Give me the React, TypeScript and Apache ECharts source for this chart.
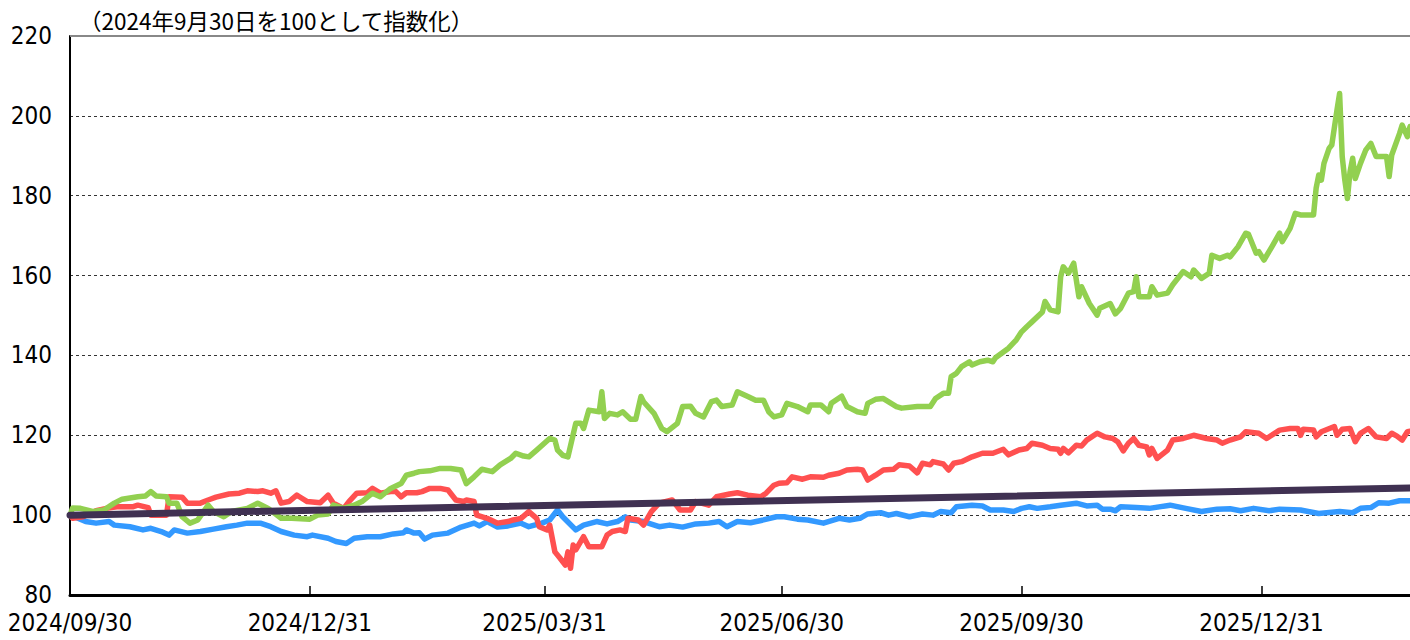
import React, { useEffect, useRef } from "react";
import * as echarts from "echarts";

const titleText = "（2024年9月30日を100として指数化）";
const tickDates = ["2024-09-30", "2024-12-31", "2025-03-31", "2025-06-30", "2025-09-30", "2025-12-31"];
const xMin = "2024-09-30";
const xMax = "2026-02-26";
const yMin = 80;
const yMax = 220;
const yStep = 20;

const greenDates = [
  "2024-09-30","2024-10-01","2024-10-04","2024-10-09","2024-10-13","2024-10-17","2024-10-20","2024-10-26","2024-10-29","2024-10-31",
  "2024-11-02","2024-11-06","2024-11-07","2024-11-10","2024-11-12","2024-11-15","2024-11-18","2024-11-22","2024-11-24","2024-11-28",
  "2024-12-01","2024-12-07","2024-12-11","2024-12-15","2024-12-20","2024-12-24","2024-12-31","2025-01-03","2025-01-07","2025-01-09",
  "2025-01-13","2025-01-17","2025-01-20","2025-01-24","2025-01-27","2025-01-31","2025-02-04","2025-02-06","2025-02-09","2025-02-11",
  "2025-02-15","2025-02-19","2025-02-23","2025-02-27","2025-03-01","2025-03-04","2025-03-07","2025-03-11","2025-03-14","2025-03-18",
  "2025-03-20","2025-03-23","2025-03-25","2025-03-28","2025-04-02","2025-04-04","2025-04-05","2025-04-07","2025-04-09","2025-04-12",
  "2025-04-14","2025-04-15","2025-04-17","2025-04-21","2025-04-22","2025-04-23","2025-04-25","2025-04-28","2025-04-30","2025-05-03",
  "2025-05-05","2025-05-07","2025-05-08","2025-05-12","2025-05-15","2025-05-17","2025-05-21","2025-05-23","2025-05-26","2025-05-28",
  "2025-05-31","2025-06-03","2025-06-05","2025-06-07","2025-06-11","2025-06-13","2025-06-17","2025-06-20","2025-06-23","2025-06-25",
  "2025-06-27","2025-06-30","2025-07-02","2025-07-06","2025-07-10","2025-07-11","2025-07-15","2025-07-18","2025-07-19","2025-07-23",
  "2025-07-25","2025-07-29","2025-08-01","2025-08-02","2025-08-05","2025-08-08","2025-08-13","2025-08-15","2025-08-21","2025-08-26",
  "2025-08-28","2025-08-31","2025-09-02","2025-09-03","2025-09-05","2025-09-07","2025-09-10","2025-09-11","2025-09-14","2025-09-17",
  "2025-09-19","2025-09-20","2025-09-25","2025-09-28","2025-09-30","2025-10-02","2025-10-04","2025-10-08","2025-10-09","2025-10-11",
  "2025-10-14","2025-10-15","2025-10-16","2025-10-18","2025-10-20","2025-10-22","2025-10-23","2025-10-26","2025-10-29","2025-10-30",
  "2025-11-03","2025-11-05","2025-11-07","2025-11-10","2025-11-12","2025-11-13","2025-11-14","2025-11-18","2025-11-19","2025-11-21",
  "2025-11-25","2025-11-27","2025-12-01","2025-12-04","2025-12-05","2025-12-08","2025-12-11","2025-12-12","2025-12-15","2025-12-18",
  "2025-12-19","2025-12-22","2025-12-25","2025-12-26","2025-12-29","2025-12-30","2026-01-01","2026-01-04","2026-01-07","2026-01-08",
  "2026-01-11","2026-01-13","2026-01-15","2026-01-20","2026-01-21","2026-01-22","2026-01-23","2026-01-24","2026-01-26","2026-01-27",
  "2026-01-29","2026-01-30","2026-01-31","2026-02-01","2026-02-02","2026-02-03","2026-02-04","2026-02-05","2026-02-07","2026-02-09",
  "2026-02-11","2026-02-13","2026-02-17","2026-02-18","2026-02-19","2026-02-22","2026-02-23","2026-02-25","2026-02-26"
];
const greenValues = [
  100,101.8,101.7,100.9,101.3,103,104,104.6,104.8,105.9,
  104.8,104.6,103,103,99.6,98,98.8,102.5,100.9,99.6,
  100.9,101.7,103,101.7,99.2,99.2,99,100,100.3,102.5,
  101.7,102.5,103.4,105.5,104.6,106.7,107.9,110,110.5,110.9,
  111.1,111.7,111.7,111.3,107.9,109.6,111.5,110.9,112.6,114.2,
  115.5,114.8,114.6,116.3,119.2,118.8,116.3,115,114.6,123,
  123,121.7,126.3,125.9,130.9,124.2,125.5,125.1,125.9,124,
  124,129.7,128.4,125.5,121.7,120.9,123,127.2,127.3,125.5,
  124.6,128.4,128.8,127.2,127.6,130.9,129.7,128.8,128.8,125.9,
  124.6,125.1,128,127.2,125.9,127.6,127.6,125.9,128,129.8,
  127.2,125.9,125.5,128,129,129.2,127.2,126.8,127.2,127.2,
  129.2,130.5,130.5,134.7,135.5,137.2,138.4,137.6,138.4,138.8,
  138.4,139.4,141.8,143.9,145.9,147.2,148.4,150.9,153.5,151.4,
  150.9,159.7,162.2,160.6,163.1,154.7,157.2,153,150.1,151.8,
  153,150.4,151.8,155.6,156,159.7,154.7,154.7,157.2,155.1,
  155.6,157.7,161,159.7,161.4,159.3,160.6,165.1,164.3,165.1,
  164.7,167.2,170.6,170.4,165.6,166,163.9,167.2,170.6,168.5,
  171.8,175.6,175.2,175.2,181.9,185.2,183.9,188.1,191.9,192.7,
  201.5,205.6,189.8,183.9,179.3,186,189.4,184.3,188.1,191.4,
  193.1,189.8,189.8,184.8,190.2,195.6,197.7,194.8,197.3
];

const redDates = [
  "2024-09-30","2024-10-01","2024-10-05","2024-10-10","2024-10-14","2024-10-18","2024-10-24","2024-10-26","2024-10-30","2024-10-31",
  "2024-11-04","2024-11-06","2024-11-07","2024-11-12","2024-11-14","2024-11-19","2024-11-22","2024-11-25","2024-11-30","2024-12-04",
  "2024-12-07","2024-12-11","2024-12-13","2024-12-16","2024-12-18","2024-12-20","2024-12-23","2024-12-26","2024-12-27","2024-12-30",
  "2025-01-04","2025-01-07","2025-01-09","2025-01-13","2025-01-15","2025-01-18","2025-01-22","2025-01-24","2025-01-27","2025-01-31",
  "2025-02-02","2025-02-04","2025-02-06","2025-02-10","2025-02-12","2025-02-15","2025-02-19","2025-02-22","2025-02-25","2025-02-28",
  "2025-03-01","2025-03-04","2025-03-05","2025-03-09","2025-03-13","2025-03-17","2025-03-19","2025-03-22","2025-03-25","2025-03-28",
  "2025-03-29","2025-04-01","2025-04-02","2025-04-04","2025-04-06","2025-04-08","2025-04-09","2025-04-10","2025-04-11","2025-04-12",
  "2025-04-15","2025-04-17","2025-04-22","2025-04-24","2025-04-26","2025-04-29","2025-05-01","2025-05-02","2025-05-06","2025-05-08",
  "2025-05-11","2025-05-14","2025-05-19","2025-05-22","2025-05-26","2025-05-28","2025-06-02","2025-06-05","2025-06-10","2025-06-13",
  "2025-06-17","2025-06-22","2025-06-24","2025-06-27","2025-06-29","2025-07-02","2025-07-04","2025-07-08","2025-07-11","2025-07-16",
  "2025-07-18","2025-07-22","2025-07-25","2025-07-29","2025-07-31","2025-08-02","2025-08-05","2025-08-08","2025-08-12","2025-08-14",
  "2025-08-18","2025-08-21","2025-08-23","2025-08-26","2025-08-27","2025-08-31","2025-09-02","2025-09-04","2025-09-07","2025-09-11",
  "2025-09-15","2025-09-19","2025-09-23","2025-09-25","2025-09-29","2025-10-02","2025-10-04","2025-10-08","2025-10-11","2025-10-14",
  "2025-10-15","2025-10-16","2025-10-18","2025-10-21","2025-10-23","2025-10-25","2025-10-29","2025-11-01","2025-11-04","2025-11-06",
  "2025-11-08","2025-11-10","2025-11-12","2025-11-14","2025-11-17","2025-11-18","2025-11-19","2025-11-21","2025-11-25","2025-11-27",
  "2025-12-01","2025-12-05","2025-12-10","2025-12-14","2025-12-16","2025-12-19","2025-12-23","2025-12-25","2025-12-30","2026-01-02",
  "2026-01-07","2026-01-11","2026-01-14","2026-01-15","2026-01-16","2026-01-20","2026-01-21","2026-01-23","2026-01-28","2026-01-29",
  "2026-01-31","2026-02-03","2026-02-05","2026-02-07","2026-02-10","2026-02-13","2026-02-17","2026-02-19","2026-02-21","2026-02-23",
  "2026-02-25","2026-02-26"
];
const redValues = [
  100,99.2,99.6,101.1,101.7,102.1,102.1,102.5,101.9,100,
  100,100,104.6,104.5,103,103,103.8,104.5,105.3,105.5,
  106.1,105.9,106.1,105.5,106.1,103,103.4,105,104.6,103.4,
  103.1,105,103,101.7,103.4,105.5,105.6,106.7,105.5,105.9,
  105.9,104.6,105.6,105.6,105.9,106.7,106.7,106.3,103.8,103.4,
  103.8,103.4,100,99.2,98,98.4,98.8,99.2,100.9,99.2,
  97.1,96.3,97.5,90.8,89.2,87.5,90.8,86.7,92.5,91.3,
  94.6,92.1,92.1,95,95.9,96.3,95.9,99.2,98.8,97.5,
  100.9,103,103.8,101.3,101.3,103.4,102.5,104.6,105.3,105.6,
  105,104.6,105.5,107.5,108,108.1,109.6,109,109.6,109.5,
  110,110.5,111.3,111.5,111.3,108.8,110,111.3,111.5,112.6,
  112.3,110.6,113,112.6,113.4,112.8,111.3,113,113.4,114.6,
  115.5,115.5,116.5,115.1,116.3,116.7,118,117.5,116.7,116.5,
  115.5,116.7,115.6,117.5,117.3,118.8,120.5,119.6,119.2,118.3,
  116.1,118,119.2,117.5,117.1,115.1,116.7,114.2,116.3,118.8,
  119.2,120,119.2,118.8,118,118.8,119.6,120.9,120.5,119.2,
  121.3,121.7,121.7,120,121.5,121.3,119.6,120.9,122.2,120,
  121.5,121.7,118.4,120.5,121.7,119.6,119.2,120.5,119.8,118.8,
  120.9,121
];

const blueDates = [
  "2024-09-30","2024-10-01","2024-10-06","2024-10-10","2024-10-15","2024-10-17","2024-10-23","2024-10-28","2024-10-31","2024-11-04",
  "2024-11-07","2024-11-09","2024-11-14","2024-11-19","2024-11-24","2024-11-29","2024-12-03","2024-12-07","2024-12-12","2024-12-16",
  "2024-12-20","2024-12-25","2024-12-30","2025-01-01","2025-01-07","2025-01-10","2025-01-14","2025-01-17","2025-01-22","2025-01-27",
  "2025-02-01","2025-02-05","2025-02-06","2025-02-09","2025-02-11","2025-02-13","2025-02-16","2025-02-22","2025-02-27","2025-03-04",
  "2025-03-06","2025-03-09","2025-03-13","2025-03-17","2025-03-22","2025-03-25","2025-03-30","2025-04-02","2025-04-05","2025-04-07",
  "2025-04-12","2025-04-15","2025-04-20","2025-04-24","2025-04-28","2025-05-01","2025-05-03","2025-05-08","2025-05-14","2025-05-18",
  "2025-05-23","2025-05-28","2025-06-02","2025-06-06","2025-06-09","2025-06-13","2025-06-18","2025-06-23","2025-06-28","2025-07-01",
  "2025-07-06","2025-07-10","2025-07-16","2025-07-22","2025-07-26","2025-07-30","2025-08-02","2025-08-07","2025-08-10","2025-08-13",
  "2025-08-18","2025-08-23","2025-08-27","2025-08-30","2025-09-03","2025-09-05","2025-09-11","2025-09-15","2025-09-18","2025-09-23",
  "2025-09-27","2025-09-30","2025-10-03","2025-10-06","2025-10-11","2025-10-15","2025-10-21","2025-10-25","2025-10-29","2025-10-31",
  "2025-11-03","2025-11-05","2025-11-07","2025-11-13","2025-11-18","2025-11-26","2025-12-02","2025-12-08","2025-12-14","2025-12-19",
  "2025-12-23","2025-12-28","2026-01-03","2026-01-07","2026-01-15","2026-01-22","2026-01-30","2026-02-04","2026-02-07","2026-02-11",
  "2026-02-14","2026-02-18","2026-02-22","2026-02-26"
];
const blueValues = [
  100,99.8,98.4,98,98.4,97.5,97.1,96.3,96.7,95.9,
  95,96.3,95.5,95.9,96.5,97.1,97.5,98,98,97.1,
  95.9,95,94.6,95,94.2,93.4,92.9,94.2,94.6,94.6,
  95.3,95.6,96.3,95.5,95.6,94,95,95.5,97,98,
  97.3,98.4,97,97.3,98,97.1,98,98.8,101.3,99.6,
  96.3,97.5,98.4,97.8,98.4,99.6,98.8,98.4,97.1,97.5,
  97,97.8,98,98.4,97.1,98.4,98.1,98.8,99.6,99.6,
  99,98.8,98,99.2,98.8,99.2,100.3,100.6,100,100.4,
  99.6,100.3,100,100.9,100.6,102.1,102.5,102.3,101.3,101.3,
  100.9,101.7,102.1,101.7,102.1,102.5,103,102.3,102.5,101.5,
  101.5,101.1,102.1,101.9,101.7,102.5,101.7,100.9,101.5,101.6,
  101.1,101.7,101.1,101.5,101.3,100.4,100.9,100.6,101.7,101.9,
  103.1,103,103.6,103.6
];

const purpleDates = ["2024-09-30", "2026-02-26"];
const purpleValues = [100, 106.8];

function ts(s: string): number {
  const [y, m, d] = s.split("-").map(Number);
  return new Date(y, m - 1, d).getTime();
}
function fmt(v: number): string {
  const d = new Date(v);
  const mm = String(d.getMonth() + 1).padStart(2, "0");
  const dd = String(d.getDate()).padStart(2, "0");
  return `${d.getFullYear()}/${mm}/${dd}`;
}
function pairs(dates: string[], values: number[]) {
  return dates.map((d, i) => [ts(d), values[i]]);
}

const labelFont = "'DejaVu Sans Condensed', 'DejaVu Sans', sans-serif";

export default function App() {
  const ref = useRef<HTMLDivElement>(null);
  useEffect(() => {
    if (!ref.current) return;
    const chart = echarts.init(ref.current, undefined, { renderer: "svg" });
    const tickValues = tickDates.map(ts);
    const lineSeries = (name: string, dates: string[], values: number[], color: string, width: number, z: number) => ({
      name,
      type: "line",
      data: pairs(dates, values),
      showSymbol: false,
      symbol: "none",
      z,
      lineStyle: { color, width, cap: "round", join: "round" },
      itemStyle: { color },
    });
    chart.setOption({
      animation: false,
      backgroundColor: "#ffffff",
      title: {
        text: titleText,
        left: 74,
        top: 4,
        textStyle: {
          fontFamily: "'Noto Sans CJK JP', sans-serif",
          fontSize: 22.5,
          fontWeight: "normal",
          color: "#000000",
        },
      },
      grid: { left: 70, right: 0, top: 36, bottom: 45, containLabel: false },
      xAxis: {
        type: "value",
        min: ts(xMin),
        max: ts(xMax),
        axisLine: { show: true, lineStyle: { color: "#000000", width: 3 } },
        axisTick: {
          show: true,
          inside: true,
          length: 9,
          customValues: tickValues,
          lineStyle: { color: "#000000", width: 1.5 },
        },
        axisLabel: {
          customValues: tickValues,
          formatter: (v: number) => fmt(v),
          fontFamily: labelFont,
          fontSize: 24,
          color: "#000000",
          margin: 16,
          hideOverlap: false,
        },
        splitLine: { show: false },
      },
      yAxis: {
        type: "value",
        min: yMin,
        max: yMax,
        interval: yStep,
        axisLine: { show: true, lineStyle: { color: "#000000", width: 2 } },
        axisTick: { show: false },
        axisLabel: {
          fontFamily: labelFont,
          fontSize: 24,
          color: "#000000",
          margin: 18,
        },
        splitLine: {
          show: true,
          lineStyle: { color: "#333333", width: 1, type: [3, 3] },
        },
      },
      series: [
        lineSeries("blue", blueDates, blueValues, "#3399ff", 5.5, 2),
        lineSeries("red", redDates, redValues, "#ff5050", 5.5, 3),
        lineSeries("green", greenDates, greenValues, "#92d050", 5.5, 4),
        {
          ...lineSeries("purple", purpleDates, purpleValues, "#403152", 7, 5),
          markLine: {
            silent: true,
            symbol: "none",
            label: { show: false },
            lineStyle: { color: "#888888", width: 2, type: "solid" },
            data: [{ yAxis: yMax }],
          },
        },
      ],
    });
    return () => chart.dispose();
  }, []);
  return <div ref={ref} style={{ position: "absolute", left: 0, top: 0, width: 1410, height: 640 }} />;
}
